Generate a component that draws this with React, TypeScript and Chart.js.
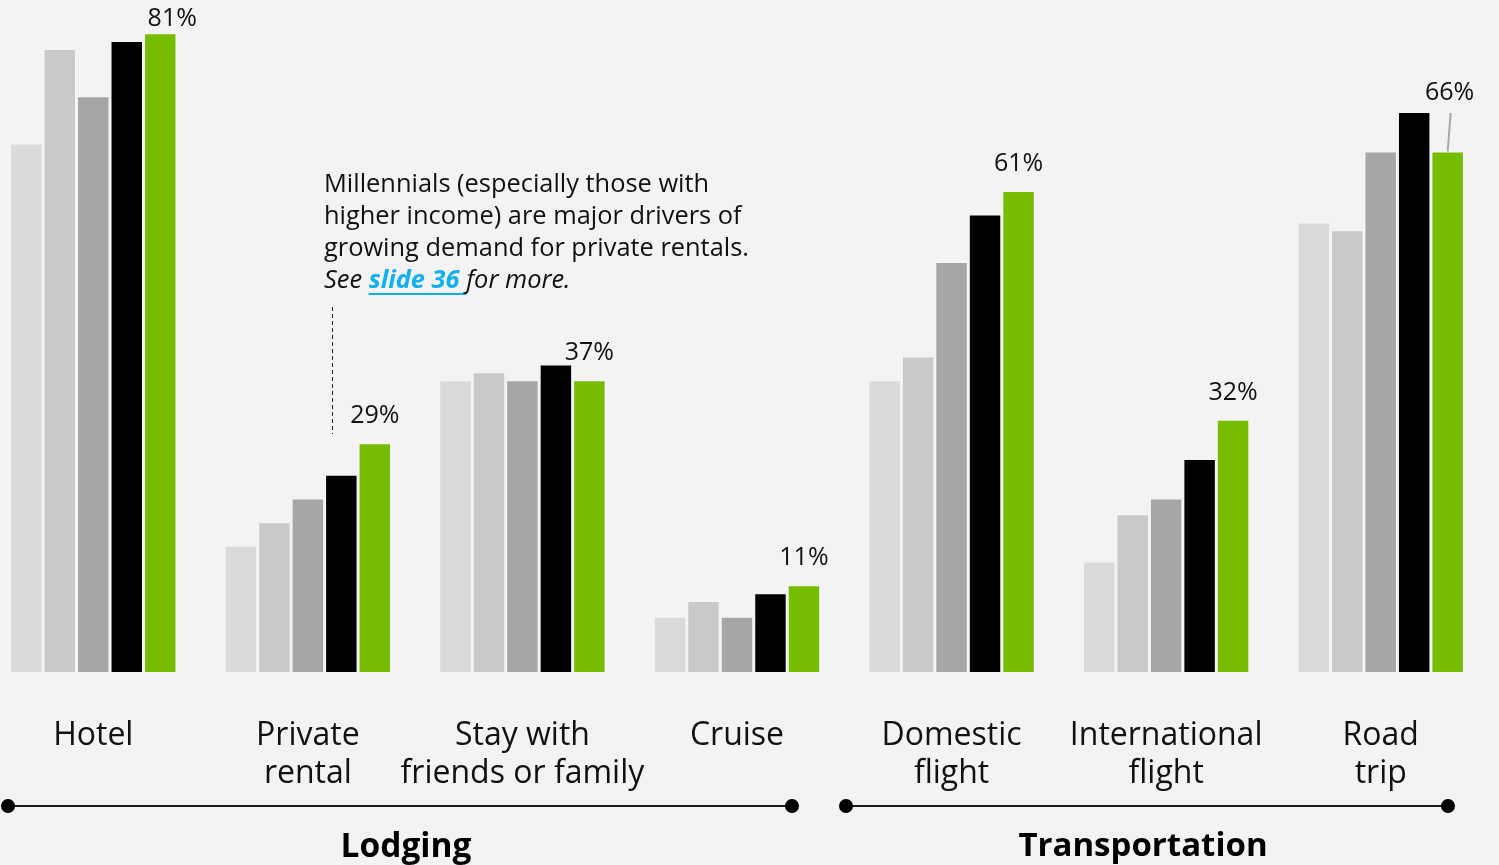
import React, { useEffect, useRef } from "react";
import { Chart, registerables } from "chart.js";

Chart.register(...registerables);

const categories: string[][] = [
  ["Hotel"],
  ["Private", "rental"],
  ["Stay with", "friends or family"],
  ["Cruise"],
  ["Domestic", "flight"],
  ["International", "flight"],
  ["Road", "trip"],
];
const seriesNames = ["Series 1", "Series 2", "Series 3", "Series 4", "Series 5"];
const series1 = [67, 16, 37, 7, 37, 14, 57];
const series2 = [79, 19, 38, 9, 40, 20, 56];
const series3 = [73, 22, 37, 7, 52, 22, 66];
const series4 = [80, 25, 39, 10, 58, 27, 71];
const series5 = [81, 29, 37, 11, 61, 32, 66];
const seriesColors = ["#dadada", "#c9c9c9", "#a6a6a6", "#000000", "#76bc00"];
const groupNames = ["Lodging", "Transportation"];
const noteLines = [
  "Millennials (especially those with",
  "higher income) are major drivers of",
  "growing demand for private rentals.",
];
const noteLinkParts = ["See ", "slide 36 ", "for more."];

const OX = 14; // canvas is shifted left by this many px
const FONT = "'Open Sans', 'Noto Sans', sans-serif";

const overlayPlugin = {
  id: "overlay",
  afterDatasetsDraw(chart: any) {
    const ctx = chart.ctx as CanvasRenderingContext2D;
    const xs = chart.scales.x;
    ctx.save();

    // category labels
    ctx.fillStyle = "#111";
    ctx.textAlign = "center";
    ctx.textBaseline = "middle";
    ctx.font = `32px ${FONT}`;
    categories.forEach((lines, i) => {
      const x = xs.getPixelForValue(i);
      lines.forEach((t, j) => ctx.fillText(t, x, 736 + j * 38));
    });

    // percent labels on last series
    const green = chart.getDatasetMeta(4).data;
    const black = chart.getDatasetMeta(3).data;
    ctx.font = `25px ${FONT}`;
    ctx.fillStyle = "#111";
    series5.forEach((v, i) => {
      const g = green[i];
      const b = black[i];
      let y = g.y - 27;
      let tx = g.x;
      let lead = false;
      if (g.y - 17 > b.y) {
        y = b.y - 19;
        tx += 2;
        lead = true;
      }
      if (y < 19) {
        y = 19;
        tx += 12;
      }
      if (lead) {
        ctx.strokeStyle = "#a8a8a8";
        ctx.lineWidth = 2;
        ctx.beginPath();
        ctx.moveTo(tx + 1, y + 20);
        ctx.lineTo(g.x, g.y);
        ctx.stroke();
      }
      ctx.fillText(`${v}%`, tx, y);
    });

    // annotation
    ctx.textAlign = "left";
    ctx.textBaseline = "middle";
    ctx.fillStyle = "#111";
    ctx.font = `25.4px ${FONT}`;
    const ax = 324 + OX;
    noteLines.forEach((t, j) => ctx.fillText(t, ax, 185 + j * 32));
    let cx = ax;
    const ly = 281;
    ctx.font = `italic 25.4px ${FONT}`;
    ctx.fillText(noteLinkParts[0], cx, ly);
    cx += ctx.measureText(noteLinkParts[0]).width;
    ctx.font = `italic bold 25.4px ${FONT}`;
    ctx.fillStyle = "#0fb0ee";
    ctx.fillText(noteLinkParts[1], cx, ly);
    const lw = ctx.measureText(noteLinkParts[1]).width;
    ctx.fillRect(cx, ly + 12, lw, 2);
    cx += lw;
    ctx.fillStyle = "#111";
    ctx.font = `italic 25.4px ${FONT}`;
    ctx.fillText(noteLinkParts[2], cx, ly);

    // dashed leader
    ctx.strokeStyle = "#222";
    ctx.lineWidth = 1;
    ctx.setLineDash([4, 3]);
    ctx.beginPath();
    ctx.moveTo(332.5 + OX, 307);
    ctx.lineTo(332.5 + OX, 434);
    ctx.stroke();
    ctx.setLineDash([]);

    // group brackets
    const brackets = [
      { x0: 8, x1: 792, cx: 406 },
      { x0: 846, x1: 1448, cx: 1143 },
    ];
    brackets.forEach((br, k) => {
      ctx.strokeStyle = "#1a1a1a";
      ctx.lineWidth = 2;
      ctx.beginPath();
      ctx.moveTo(br.x0 + OX, 806);
      ctx.lineTo(br.x1 + OX, 806);
      ctx.stroke();
      ctx.fillStyle = "#000";
      [br.x0, br.x1].forEach((px) => {
        ctx.beginPath();
        ctx.arc(px + OX, 806, 7, 0, Math.PI * 2);
        ctx.fill();
      });
      ctx.font = `bold ${k === 0 ? 33.5 : 33} px ${FONT}`.replace(" px", "px");
      ctx.textAlign = "center";
      ctx.fillText(groupNames[k], br.cx + OX, 847);
    });

    ctx.restore();
  },
};

export default function App() {
  const ref = useRef<HTMLCanvasElement | null>(null);
  useEffect(() => {
    if (!ref.current) return;
    const all = [series1, series2, series3, series4, series5];
    const chart = new Chart(ref.current, {
      type: "bar",
      data: {
        labels: categories.map((c) => c.join(" ")),
        datasets: all.map((d, i) => ({
          label: seriesNames[i],
          data: d,
          backgroundColor: seriesColors[i],
          borderColor: "rgba(255,255,255,0.3)",
          borderWidth: 1,
          borderSkipped: "bottom",
          categoryPercentage: 0.78,
          barPercentage: 0.97,
        })),
      },
      options: {
        animation: false,
        responsive: false,
        maintainAspectRatio: false,
        layout: { padding: { top: 4, bottom: 193, left: 0, right: 0 } },
        plugins: { legend: { display: false }, tooltip: { enabled: false } },
        scales: {
          x: { display: false, grid: { display: false } },
          y: { display: false, min: 0, max: 84.7 },
        },
      },
      plugins: [overlayPlugin],
    });
    return () => chart.destroy();
  }, []);
  return (
    <div
      style={{
        position: "fixed",
        left: 0,
        top: 0,
        width: 1499,
        height: 865,
        overflow: "hidden",
        background: "#f3f3f3",
      }}
    >
      <div style={{ position: "absolute", left: -OX, top: 0, width: 1502, height: 865 }}>
        <canvas ref={ref} width={1502} height={865} style={{ width: 1502, height: 865 }} />
      </div>
    </div>
  );
}
